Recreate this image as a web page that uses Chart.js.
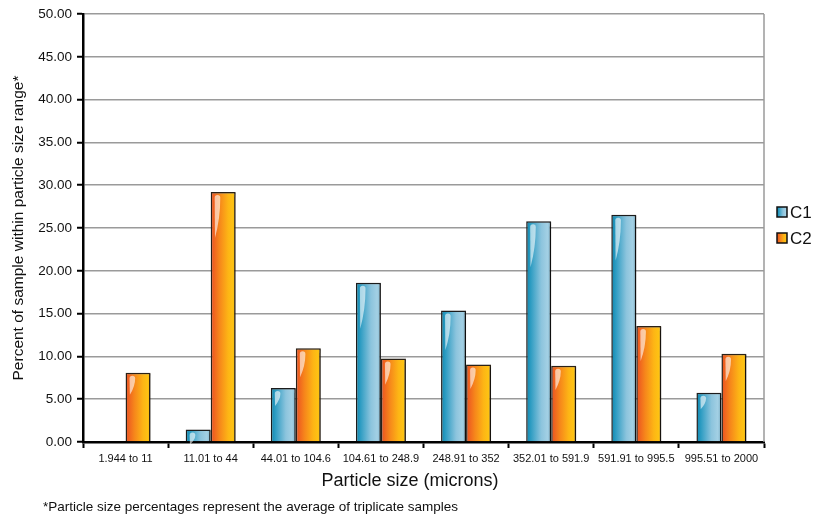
<!DOCTYPE html>
<html>
<head>
<meta charset="utf-8">
<style>
  html, body { margin: 0; padding: 0; background: #fff; }
  #wrap { width: 820px; height: 516px; position: relative; }
</style>
<script src="https://cdn.jsdelivr.net/npm/chart.js@4/dist/chart.umd.min.js"></script>
</head>
<body>
<div id="wrap"><canvas id="c" width="820" height="516"></canvas></div>
<script>
// Particle size ranges (microns)
const categories = ['1.944 to 11', '11.01 to 44', '44.01 to 104.6', '104.61 to 248.9',
  '248.91 to 352', '352.01 to 591.9', '591.91 to 995.5', '995.51 to 2000'];
// Percent of sample within each size range
const c1Values = [null, 1.45, 6.3, 18.6, 15.35, 25.8, 26.55, 5.75];
const c2Values = [8.1, 29.2, 10.95, 9.75, 9.05, 8.9, 13.55, 10.3];
const seriesNames = ['C1', 'C2'];
const yMin = 0, yMax = 50, yStep = 5;

const FONT = '"Liberation Sans", Arial, Helvetica, sans-serif';
const CAT_PCT = 0.5875;

const palettes = [
  [[0, '#0b86ae'], [0.18, '#2d9cc2'], [0.6, '#8cc4dd'], [0.85, '#a3d0e4'], [1, '#7fb5cd']],
  [[0, '#eb4e22'], [0.35, '#f6861b'], [0.7, '#fdb515'], [0.9, '#fec313'], [1, '#e6a30f']]
];

function makeGradient(ctx, x0, x1, di) {
  const g = ctx.createLinearGradient(x0, 0, x1, 0);
  palettes[di].forEach(([o, c]) => g.addColorStop(o, c));
  return g;
}

// Horizontal gradient fill for each bar, derived from the category scale
function barFill(context) {
  const chart = context.chart;
  const xs = chart.scales.x;
  if (!xs || xs.right === undefined || !isFinite(xs.right)) return palettes[context.datasetIndex][2][1];
  const catW = (xs.right - xs.left) / categories.length;
  const barW = catW * CAT_PCT / 2;
  const center = xs.getPixelForValue(context.dataIndex);
  const x0 = context.datasetIndex === 0 ? center - barW : center;
  return makeGradient(chart.ctx, x0, x0 + barW, context.datasetIndex);
}

const framePlugin = {
  id: 'frame',
  beforeDatasetsDraw(chart) {
    const { ctx, chartArea: a } = chart;
    ctx.save();
    ctx.strokeStyle = '#9a9a9a';
    ctx.lineWidth = 1.5;
    ctx.beginPath();
    ctx.moveTo(a.right, a.top);
    ctx.lineTo(a.right, a.bottom);
    ctx.stroke();
    ctx.restore();
  },
  beforeDatasetDraw(chart) {
    const ctx = chart.ctx;
    ctx.save();
    ctx.shadowColor = 'rgba(0,0,0,0.45)';
    ctx.shadowOffsetX = 2;
    ctx.shadowOffsetY = 1;
    ctx.shadowBlur = 1.5;
  },
  afterDatasetDraw(chart) {
    chart.ctx.restore();
  },
  afterDatasetsDraw(chart) {
    const ctx = chart.ctx;
    // glossy highlight near the top-left of every bar
    chart.data.datasets.forEach((ds, di) => {
      const meta = chart.getDatasetMeta(di);
      meta.data.forEach((el, i) => {
        if (ds.data[i] === null || ds.data[i] === undefined) return;
        const { x, y, base, width } = el.getProps(['x', 'y', 'base', 'width'], true);
        const h = base - y;
        if (h < 8) return;
        const L = Math.min(43, Math.max(12, h * 0.28));
        const x0 = x - width / 2;
        const r = 2.8;
        const cx = x0 + 6.8, cy = y + 3 + r;
        ctx.save();
        ctx.fillStyle = 'rgba(255,255,255,0.6)';
        ctx.beginPath();
        ctx.moveTo(cx - r, cy);
        ctx.arc(cx, cy, r, Math.PI, 0, false);
        ctx.quadraticCurveTo(cx + r, y + 3 + L * 0.55, cx - r + 0.3, y + 3 + L);
        ctx.lineTo(cx - r, cy);
        ctx.closePath();
        ctx.fill();
        ctx.restore();
      });
    });
  },
  afterDraw(chart) {
    const ctx = chart.ctx;
    const a = chart.chartArea;
    ctx.save();
    ctx.fillStyle = '#111';
    // axis titles
    ctx.font = '18px ' + FONT;
    ctx.textAlign = 'center';
    ctx.textBaseline = 'middle';
    ctx.fillText('Particle size (microns)', 410, 481);
    ctx.save();
    ctx.translate(19, (a.top + a.bottom) / 2);
    ctx.rotate(-Math.PI / 2);
    ctx.font = '15.5px ' + FONT;
    ctx.fillText('Percent of sample within particle size range*', 0, 0);
    ctx.restore();
    // footnote
    ctx.font = '13.5px ' + FONT;
    ctx.textAlign = 'left';
    ctx.fillText('*Particle size percentages represent the average of triplicate samples', 43, 507);
    // legend
    seriesNames.forEach((name, di) => {
      const bs = 10, bx = 777, cyRow = 212 + di * 26, by = cyRow - bs / 2;
      ctx.fillStyle = makeGradient(ctx, bx, bx + bs, di);
      ctx.fillRect(bx, by, bs, bs);
      ctx.strokeStyle = '#111';
      ctx.lineWidth = 1.5;
      ctx.strokeRect(bx, by, bs, bs);
      ctx.fillStyle = '#111';
      ctx.font = '17px ' + FONT;
      ctx.textAlign = 'left';
      ctx.fillText(name, bx + bs + 3, cyRow + 1);
    });
    ctx.restore();
  }
};

new Chart(document.getElementById('c'), {
  type: 'bar',
  data: {
    labels: categories,
    datasets: [
      { label: seriesNames[0], data: c1Values, backgroundColor: barFill,
        borderColor: '#1c1c1c', borderWidth: 1.5, borderSkipped: 'bottom',
        barPercentage: 1, categoryPercentage: CAT_PCT },
      { label: seriesNames[1], data: c2Values, backgroundColor: barFill,
        borderColor: '#2a2117', borderWidth: 1.5, borderSkipped: 'bottom',
        barPercentage: 1, categoryPercentage: CAT_PCT }
    ]
  },
  options: {
    responsive: false,
    animation: false,
    events: [],
    layout: { padding: { left: 0, right: 56, top: 14, bottom: 0 } },
    plugins: { legend: { display: false }, tooltip: { enabled: false } },
    scales: {
      x: {
        grid: { display: true, drawOnChartArea: false, offset: true,
                tickColor: '#000', tickLength: 6, tickWidth: 2 },
        border: { display: true, color: '#000', width: 2.5 },
        ticks: { color: '#111', font: { family: FONT, size: 11 }, padding: 4,
                 maxRotation: 0, autoSkip: false },
        afterFit(s) { s.height = 74; }
      },
      y: {
        min: yMin, max: yMax,
        grid: { color: '#9a9a9a', lineWidth: 1.5, tickColor: '#000', tickLength: 6, tickWidth: 2 },
        border: { display: true, color: '#000', width: 2.5 },
        ticks: { stepSize: yStep, color: '#111', font: { family: FONT, size: 13.5 }, padding: 5,
                 callback: v => Number(v).toFixed(2) },
        afterFit(s) { s.width = 83; }
      }
    }
  },
  plugins: [framePlugin]
});
</script>
</body>
</html>
